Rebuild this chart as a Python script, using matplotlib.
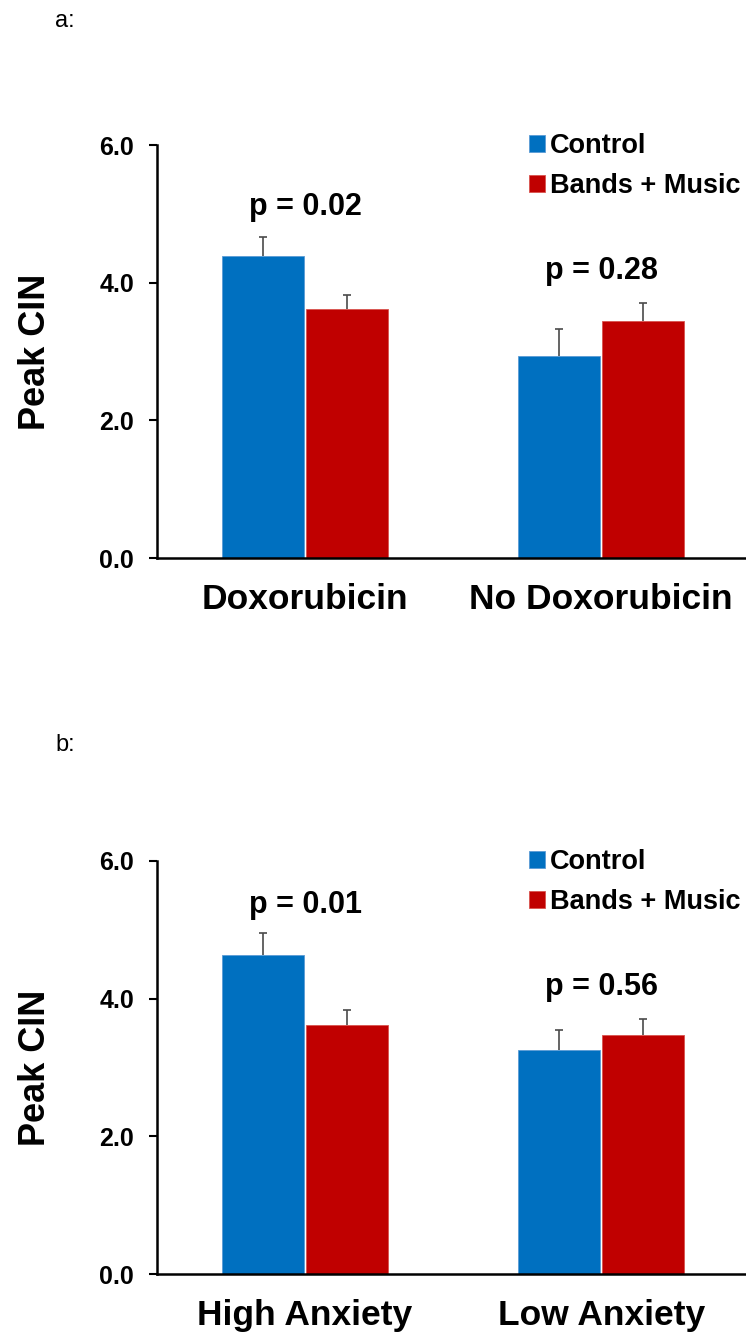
import matplotlib
matplotlib.use("Agg")
import matplotlib.pyplot as plt
import numpy as np

plt.rcParams['font.family'] = ['Liberation Sans', 'DejaVu Sans']

# ---- data ----
series_names = ["Control", "Bands + Music"]
colors = ["#0070C0", "#C00000"]

cats_a = ["Doxorubicin", "No Doxorubicin"]
control_a = [4.39, 2.94]
bands_a = [3.62, 3.44]
control_a_err = [0.27, 0.38]
bands_a_err = [0.20, 0.27]
pvals_a = ["p = 0.02", "p = 0.28"]
pval_y_a = [4.98, 4.05]

cats_b = ["High Anxiety", "Low Anxiety"]
control_b = [4.63, 3.25]
bands_b = [3.62, 3.47]
control_b_err = [0.33, 0.30]
bands_b_err = [0.22, 0.23]
pvals_b = ["p = 0.01", "p = 0.56"]
pval_y_b = [5.24, 4.05]

yticks = [0.0, 2.0, 4.0, 6.0]
ylabel = "Peak CIN"

W, H = 746, 1337
fig = plt.figure(figsize=(W / 100, H / 100), dpi=100)

AX_L, AX_R = 157, 745


def panel(top_px, bot_px, cats, ctrl, bands, ctrl_err, bands_err, pvals, pys, tag, tag_y):
    rect = [AX_L / W, 1 - bot_px / H, (AX_R - AX_L) / W, (bot_px - top_px) / H]
    ax = fig.add_axes(rect)
    x = np.arange(len(cats))
    bw = 0.284
    edge = ["#5A9BD5", "#D9534F"]
    for i, (vals, errs, col, name, off) in enumerate(
            [(ctrl, ctrl_err, colors[0], series_names[0], -bw / 2),
             (bands, bands_err, colors[1], series_names[1], bw / 2)]):
        ax.bar(x + off, vals, width=bw * 0.975, color=col, edgecolor=edge[i], linewidth=0.6,
               label=name, zorder=2)
        cont = ax.errorbar(x + off, vals, yerr=[np.zeros(len(vals)), errs], fmt="none",
                           ecolor="#4a4a4a", elinewidth=1.2, capsize=3.2, capthick=1.2,
                           zorder=1)
        # hide the zero-length lower caps (only upper whiskers are shown)
        for cl in cont[1]:
            if np.allclose(np.asarray(cl.get_ydata(), dtype=float), np.asarray(vals)):
                cl.set_visible(False)
    for xi, t, yv in zip(x, pvals, pys):
        ax.text(xi, yv, t, ha="center", va="baseline", fontsize=22, fontweight="bold")
    ax.set_xlim(-0.5, 1.486)
    ax.set_ylim(0, 6.0)
    ax.set_yticks(yticks)
    ax.set_yticklabels([f"{v:.1f}" for v in yticks], fontsize=18, fontweight="bold")
    ax.set_xticks(x)
    ax.set_xticklabels(cats, fontsize=25.5, fontweight="bold")
    ax.tick_params(axis="x", length=0, pad=18)
    ax.tick_params(axis="y", length=6, width=1.5, direction="out", pad=10.5)
    for s in ["top", "right"]:
        ax.spines[s].set_visible(False)
    ax.spines["left"].set_linewidth(1.8)
    ax.spines["bottom"].set_linewidth(1.8)
    ax.set_ylabel(ylabel, fontsize=26, fontweight="bold")
    ax.yaxis.set_label_coords((53 - AX_L) / (AX_R - AX_L), 0.5)
    ax.legend(loc="upper left", bbox_to_anchor=((529 - AX_L) / (AX_R - AX_L), 1.028),
              frameon=False, prop={"size": 19.5, "weight": "bold"},
              handlelength=0.58, handleheight=0.58, handletextpad=0.2,
              labelspacing=0.5, borderaxespad=0, borderpad=0)
    fig.text(55 / W, 1 - tag_y / H, tag, fontsize=17, ha="left", va="center")
    return ax


ax_a = panel(145, 558, cats_a, control_a, bands_a,
             control_a_err, bands_a_err, pvals_a, pval_y_a, "a:", 21)
ax_b = panel(861, 1274, cats_b, control_b, bands_b,
             control_b_err, bands_b_err, pvals_b, pval_y_b, "b:", 745)

fig.savefig("out.png", dpi=100)
